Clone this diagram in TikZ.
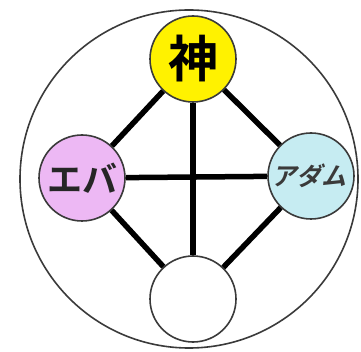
\documentclass[tikz,border=0pt]{standalone}
\usepackage{fontspec}
\usepackage{tikz}
\newfontfamily\jpbold{Noto Sans CJK JP Bold}
\definecolor{GodYellow}{HTML}{FFF200}
\definecolor{EvePink}{HTML}{EDB8F4}
\definecolor{AdamCyan}{HTML}{C6ECF2}
\definecolor{RimGray}{HTML}{3A3A3A}

\begin{document}
\begin{tikzpicture}[
  x=1pt, y=-1pt,
  person/.style={
    circle,
    draw=RimGray,
    line width=1.6pt,
    inner sep=0pt,
    minimum size=86pt
  },
  bond/.style={
    line width=5.5pt,
    draw=black
  },
  leaning/.style={
    xslant=0.25,
    transform shape,
    inner sep=0pt,
    text=RimGray,
    font=\jpbold\fontsize{25}{25}\selectfont
  }
]
\useasboundingbox (0,0) rectangle (361,352);

% Outer ring
\draw[RimGray, line width=1.6pt] (189,179) circle (169);

% Persons
\node[person, fill=GodYellow] (god) at (193,59)
  {\jpbold\fontsize{50}{50}\selectfont 神};

\node[person, fill=EvePink] (eve) at (82,178)
  {\color{black!85}\jpbold\fontsize{35}{35}\selectfont エバ};

\node[person, fill=AdamCyan, label={[leaning]center:アダム}]
  (adam) at (311,176) {};

\node[person, fill=white] (child) at (193,299) {};

% Bonds
\draw[bond] (god) -- (eve);
\draw[bond] (god) -- (adam);
\draw[bond] (eve) -- (child);
\draw[bond] (adam) -- (child);
\draw[bond] (god) -- (child);
\draw[bond] (eve) -- (adam);

\end{tikzpicture}
\end{document}
